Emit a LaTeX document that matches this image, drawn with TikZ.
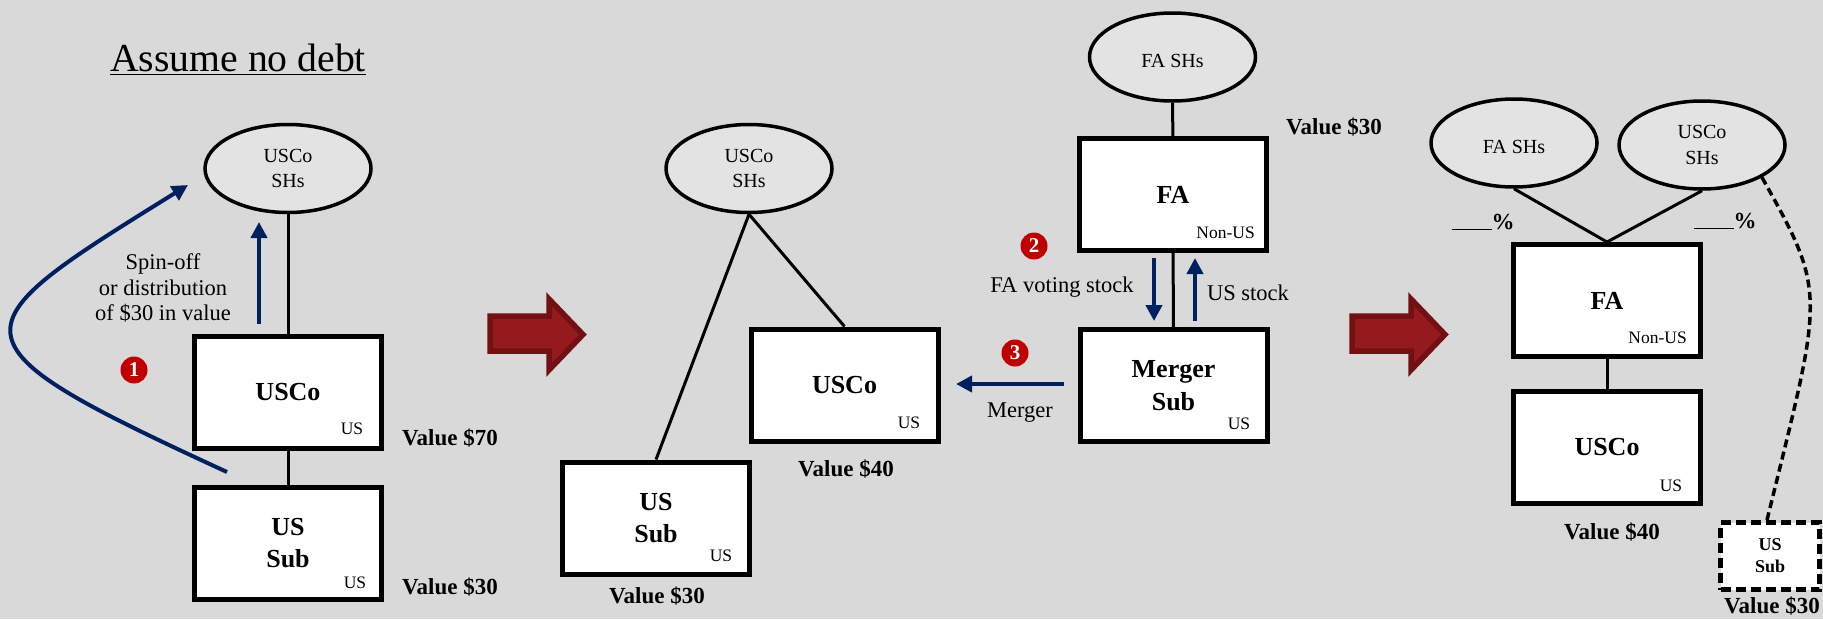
\documentclass[tikz,border=0pt]{standalone}
\usepackage{fontspec}
\setmainfont{Liberation Serif}
\usetikzlibrary{arrows.meta}
\usetikzlibrary{shapes.geometric}
\definecolor{pagegray}{HTML}{D9D9D9}
\definecolor{shgray}{HTML}{E3E3E3}
\definecolor{flowblue}{HTML}{002060}
\definecolor{stepred}{HTML}{C00000}
\definecolor{bigred}{HTML}{951A1D}
\definecolor{bigedge}{HTML}{721013}
\tikzset{
    entity/.style={draw,fill=white,line width=5pt,minimum width=187pt,minimum height=112pt,inner sep=0pt,align=center,font=\fontsize{26}{32.5}\selectfont\bfseries},
    holders/.style={draw,fill=shgray,ellipse,line width=3.5pt,minimum width=166pt,minimum height=88pt,inner sep=0pt,align=center,font=\fontsize{20}{25.7}\selectfont,execute at begin node=\rule{0pt}{21.5pt}},
    twoline/.style={holders,execute at begin node=\rule{0pt}{30pt}},
    tag/.style={inner sep=0pt,font=\fontsize{17.5}{20}\selectfont},
    note/.style={inner sep=0pt,align=center,font=\fontsize{22.5}{25.7}\selectfont},
    val/.style={inner sep=0pt,font=\fontsize{23}{26}\selectfont\bfseries},
    own/.style={line width=3pt},
    flow/.style={line width=4pt,flowblue,-{Triangle[length=16pt,width=16pt]}},
    badge/.style={circle,fill=stepred,text=white,minimum size=27pt,inner sep=0pt,font=\fontsize{21}{21}\selectfont\bfseries},
    bigarrow/.style={line width=5.5pt,fill=bigred,draw=bigedge,miter limit=4}
}
\begin{document}
\begin{tikzpicture}[x=1pt,y=-1pt]
    \fill[pagegray] (0,0) rectangle (1823,619);
    \useasboundingbox (0,0) rectangle (1823,619);
    \node[inner sep=0pt,font=\fontsize{39.7}{39.7}\selectfont,anchor=base west] (title) at (110,71) {Assume no debt};
    \draw[line width=1.6pt] ([yshift=-3.5pt]title.base west) -- ([yshift=-3.5pt]title.base east);

    \node[twoline] (shsa) at (288,168.5) {USCo\\SHs};
    \node[entity] (uscoa) at (288,392) {USCo};
    \node[entity] (suba) at (288,543) {US\\Sub};
    \node[tag] (taga) at (352,429) {US};
    \node[tag] (tagb) at (355,583) {US};
    \draw[own] (shsa) -- (uscoa);
    \draw[own] (uscoa) -- (suba);
    \node[note] (spin) at (163,288) {Spin-off\\or distribution\\of \$30 in value};
    \node[val,anchor=west] (vala) at (402,438) {Value \$70};
    \node[val,anchor=west] (valb) at (402,587) {Value \$30};
    \node[badge] (one) at (134,370) {1};
    \coordinate (upa) at (259,324);
    \coordinate (upb) at (259,222);
    \draw[flow] (upa) -- (upb);
    \coordinate (spina) at (227,472);
    \coordinate (spinb) at (188,185);
    \draw[flow] (spina) .. controls (-60,340) and (-46,330) .. (spinb);

    \foreach \arrowx in {0,862} {
        \draw[bigarrow,shift={(\arrowx,0)}] (490,316) -- (549,316) -- (549,299) -- (583,334.5) -- (549,370) -- (549,351) -- (490,351) -- cycle;
    }

    \node[twoline] (shsb) at (749,168.5) {USCo\\SHs};
    \node[entity] (uscob) at (844.5,385) {USCo};
    \node[entity] (subb) at (656,518) {US\\Sub};
    \node[tag] (tagc) at (909,423) {US};
    \node[tag] (tagd) at (721,556) {US};
    \draw[own] (shsb.south) -- (uscob.north);
    \draw[own] (shsb.south) -- (subb.north);
    \node[val] (valc) at (846,469) {Value \$40};
    \node[val] (vald) at (657,596) {Value \$30};

    \node[holders] (shsc) at (1172.5,57) {FA SHs};
    \node[entity] (fa) at (1173,194.5) {FA};
    \node[entity] (merger) at (1173.5,385.5) {Merger\\Sub};
    \node[tag,anchor=east] (tage) at (1255,233) {Non-US};
    \node[tag] (tagf) at (1239,424) {US};
    \draw[own] (shsc) -- (fa);
    \draw[own] (fa) -- (merger);
    \node[val,anchor=west] (vale) at (1286,127) {Value \$30};
    \node[badge] (two) at (1034,246) {2};
    \node[badge] (three) at (1015,353) {3};
    \node[note] (vote) at (1062,287) {FA voting stock};
    \node[note] (stock) at (1248,293) {US stock};
    \node[note] (mrg) at (1020,413) {Merger};
    \coordinate (dna) at (1154,258);
    \coordinate (dnb) at (1154,321);
    \coordinate (upc) at (1195,321);
    \coordinate (upd) at (1195,258);
    \coordinate (mrga) at (1064,384);
    \coordinate (mrgb) at (956,384);
    \draw[flow] (dna) -- (dnb);
    \draw[flow] (upc) -- (upd);
    \draw[flow] (mrga) -- (mrgb);

    \node[holders] (shsd) at (1514,143) {FA SHs};
    \node[twoline] (shse) at (1702,145) {USCo\\SHs};
    \node[entity] (fab) at (1607,300.5) {FA};
    \node[entity] (uscoc) at (1607,447.5) {USCo};
    \node[tag,anchor=east] (tagg) at (1687,338) {Non-US};
    \node[tag] (tagh) at (1671,486) {US};
    \draw[own] (shsd.south) -- (fab.north);
    \draw[own] (shse.south) -- (fab.north);
    \draw[own] (fab) -- (uscoc);
    \node[val] (pcta) at (1483,222) {\rule[-1pt]{40pt}{1.5pt}\%};
    \node[val] (pctb) at (1725,221) {\rule[-1pt]{40pt}{1.5pt}\%};
    \node[val] (vall) at (1612,532) {Value \$40};
    \node[entity,dash pattern=on 10pt off 5pt,minimum width=99pt,minimum height=67pt,font=\fontsize{18}{22}\selectfont\bfseries] (subc) at (1770,556) {US\\Sub};
    \node[val] (valm) at (1772,606.5) {Value \$30};
    \draw[own,line width=3.5pt,dash pattern=on 8pt off 4.5pt] (shse.south east) .. controls (1828,295) and (1823,292) .. ([xshift=-3pt]subc.north);
\end{tikzpicture}
\end{document}
